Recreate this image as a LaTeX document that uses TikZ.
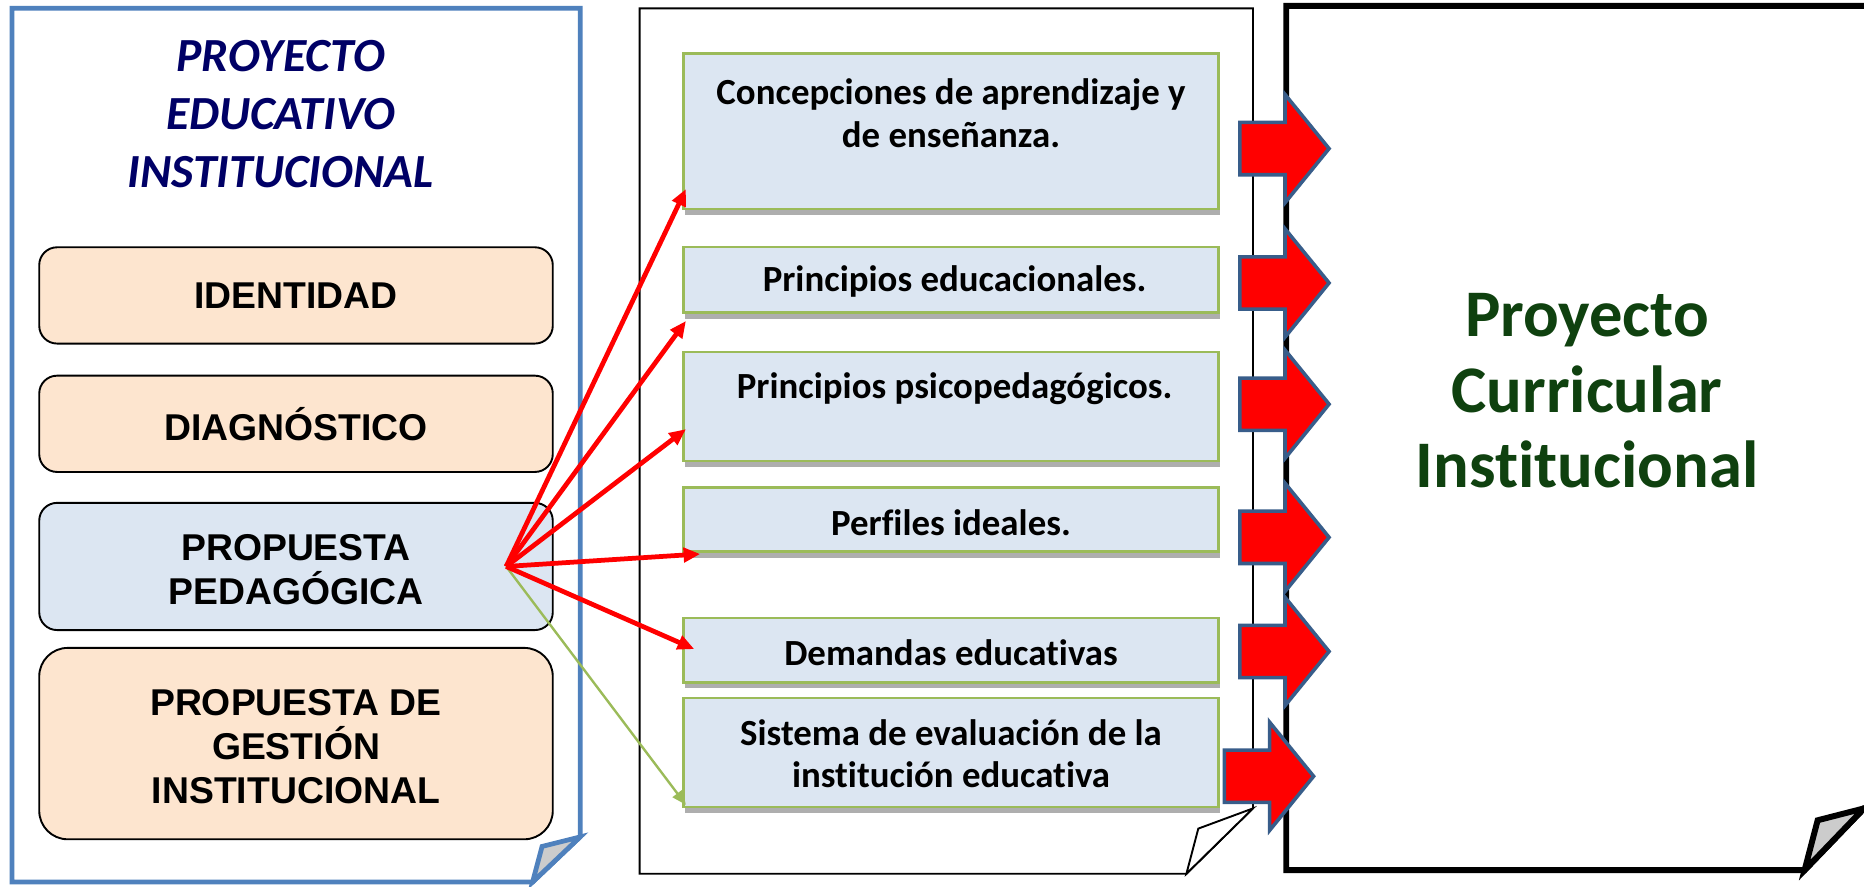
\documentclass[tikz,border=0pt]{standalone}
\usepackage{fontspec}
\setmainfont{Carlito}[Ligatures=NoCommon]
\newfontfamily\arialfont{Liberation Sans}
\usetikzlibrary{arrows.meta,shadows,calc}
\definecolor{sheetblue}{RGB}{79,129,189}
\definecolor{peach}{RGB}{253,229,207}
\definecolor{paleblue}{RGB}{220,230,242}
\definecolor{boxgreen}{RGB}{155,187,89}
\definecolor{arrowblue}{RGB}{56,93,138}
\definecolor{titlenavy}{RGB}{0,0,102}
\definecolor{darkgreen}{RGB}{15,65,15}
\tikzset{
  leftbox/.style={draw=black, line width=0.8pt, rounded corners=7.5pt, minimum width=216pt, inner sep=0pt},
  midbox/.style={draw=boxgreen, fill=paleblue, line width=1pt, minimum width=225pt, inner sep=0pt,
    drop shadow={shadow xshift=0.5pt, shadow yshift=-2.5pt, opacity=0.45, fill=black!70}},
  midtext/.style={font=\fontsize{15.5}{18}\selectfont\bfseries, align=center, inner sep=0pt},
  lefttext/.style={font=\arialfont\fontsize{15.7}{18.5}\selectfont\bfseries, align=center, inner sep=0pt},
  redarrow/.style={red, line width=2pt, -{Triangle[length=7pt,width=6pt]}},
  greenarrow/.style={boxgreen, line width=1pt, -{Triangle[length=6pt,width=5pt]}},
  blockarrow/.pic={\draw[fill=red, draw=arrowblue, line width=1.5pt, line join=miter]
    (0,-22) -- (38,-22) -- (38,-45.5) -- (75,0) -- (38,45.5) -- (38,22) -- (0,22) -- cycle;}
}
\begin{document}
\begin{tikzpicture}[x=0.5pt,y=-0.5pt]
\useasboundingbox (0,0) rectangle (1568,746);
\fill[white] (0,0) rectangle (1568,746);

% left sheet
\draw[sheetblue, line width=2pt, line join=miter] (10,7) -- (488,7) -- (488,704) -- (448,742) -- (10,742) -- cycle;
\filldraw[fill=gray!40, draw=sheetblue, line width=2pt, line join=miter] (448,742) -- (456,712) -- (488,704) -- cycle;

% middle sheet
\draw[black, line width=0.8pt, line join=miter] (538,7) -- (1054,7) -- (1054,680) -- (998,735) -- (538,735) -- cycle;
\filldraw[fill=white, draw=black, line width=0.8pt, line join=miter] (998,735) -- (1008,697) -- (1054,680) -- cycle;

% right sheet
\draw[black, line width=2.5pt, line join=miter] (1575,5) -- (1082,5) -- (1082,732) -- (1518,732) -- (1568,680) -- (1575,680);
\filldraw[fill=gray!40, draw=black, line width=2.5pt, line join=miter] (1518,732) -- (1529,690) -- (1568,680) -- cycle;

% title
\node[font=\fontsize{20}{24.5}\selectfont\bfseries\itshape, text=titlenavy, align=center, inner sep=0pt] (title) at (236,96) {PROYECTO\\EDUCATIVO\\INSTITUCIONAL};

% left boxes
\node[leftbox, fill=peach, minimum height=40.5pt] (ident) at (249,248.5) {};
\node[lefttext] (identt) at (ident.center) {IDENTIDAD};
\node[leftbox, fill=peach, minimum height=40.5pt] (diag) at (249,356.5) {};
\node[lefttext] (diagt) at (diag.center) {DIAGNÓSTICO};
\node[leftbox, fill=paleblue, minimum height=53.5pt] (ped) at (249,476.5) {};
\node[lefttext] (pedt) at (249,479) {PROPUESTA\\PEDAGÓGICA};
\node[leftbox, fill=peach, minimum height=80.5pt, rounded corners=12pt] (gest) at (249,625.5) {};
\node[lefttext] (gestt) at (249,628) {PROPUESTA DE\\GESTIÓN\\INSTITUCIONAL};

% middle boxes
\node[midbox, minimum height=65.5pt] (b1) at (800,110.5) {};
\node[midtext] (b1t) at (800,95) {Concepciones de aprendizaje y\\de enseñanza.};
\node[midbox, minimum height=27.5pt] (b2) at (800,235.5) {};
\node[midtext] (b2t) at (803,237) {Principios educacionales.};
\node[midbox, minimum height=46pt] (b3) at (800,342) {};
\node[midtext] (b3t) at (803,327) {Principios psicopedagógicos.};
\node[midbox, minimum height=27pt] (b4) at (800,437) {};
\node[midtext] (b4t) at (800,440) {Perfiles ideales.};
\node[midbox, minimum height=27pt] (b5) at (800,547) {};
\node[midtext] (b5t) at (800,549) {Demandas educativas};
\node[midbox, minimum height=46pt] (b6) at (800,633) {};
\node[midtext] (b6t) at (800,634) {Sistema de evaluación de la\\institución educativa};

% connectors
\coordinate (src) at ($(ped.east)+(-40,0)$);
\draw[greenarrow] (src) -- ($(b6.south west)+(3,-3)$);
\draw[redarrow] (src) -- ($(b1.south west)+(3,-18)$);
\draw[redarrow] (src) -- ($(b2.south west)+(3,6)$);
\draw[redarrow] (src) -- ($(b3.west)+(3,19)$);
\draw[redarrow] (src) -- ($(b4.south west)+(15,1)$);
\draw[redarrow] (src) -- ($(b5.west)+(10,-1)$);

% block arrows
\pic at (1043,125) {blockarrow};
\pic at (1043,238) {blockarrow};
\pic at (1043,340) {blockarrow};
\pic at (1043,452) {blockarrow};
\pic at (1043,548) {blockarrow};
\pic at (1030,653) {blockarrow};

% right text
\node[font=\fontsize{28}{31.75}\selectfont\bfseries, text=darkgreen, align=center, inner sep=0pt] (pci) at (1335,329) {Proyecto\\Curricular\\Institucional};
\end{tikzpicture}
\end{document}
